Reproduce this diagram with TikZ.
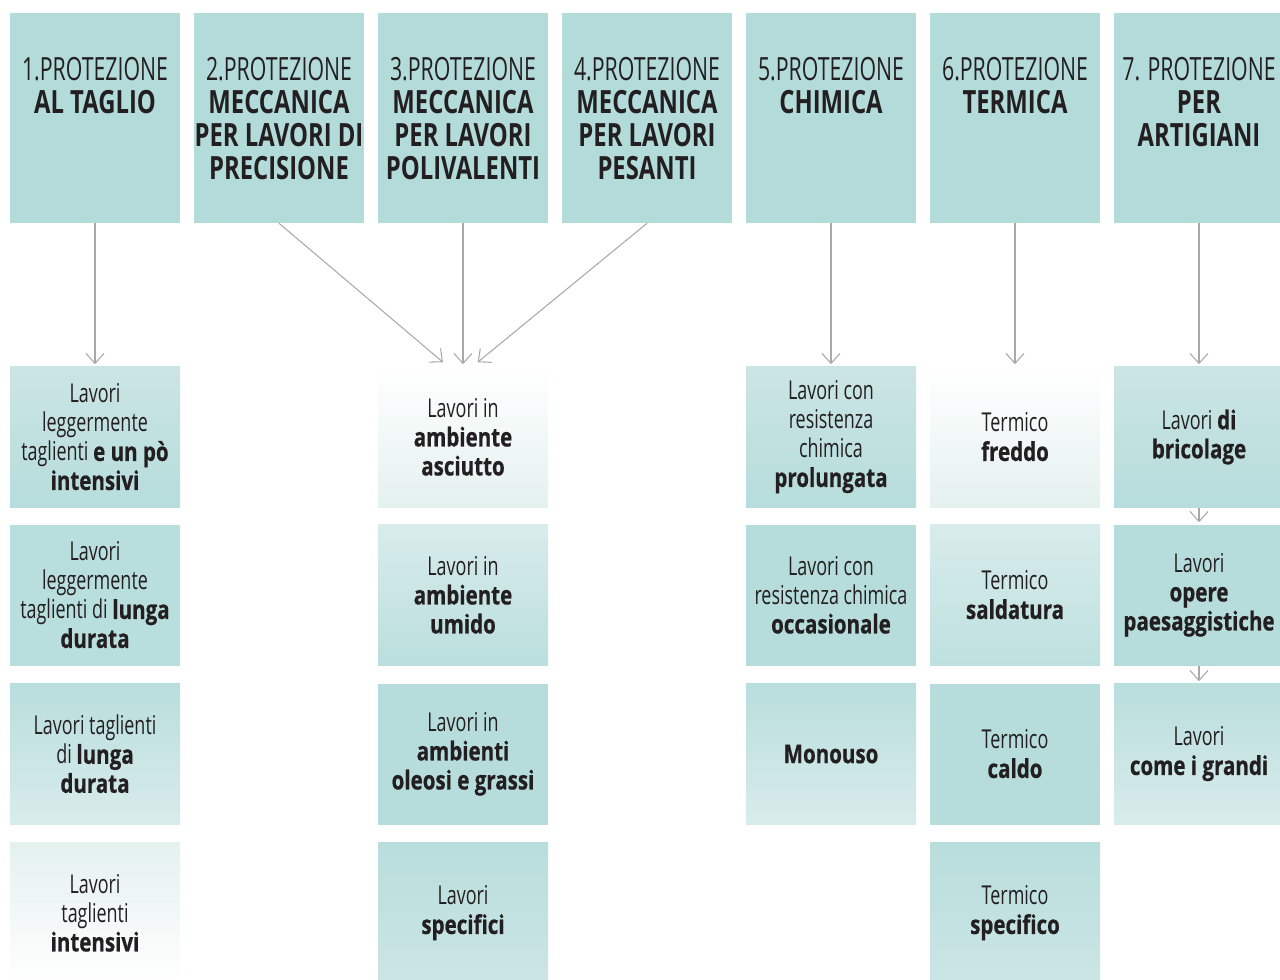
\documentclass[tikz,border=0pt]{standalone}
\usepackage{fontspec}
\setmainfont{Open Sans}[UprightFeatures={FakeStretch=0.665}, BoldFeatures={FakeStretch=0.745}]
\newfontfamily\bodyfont{Open Sans}[UprightFeatures={FakeStretch=0.69}, BoldFeatures={FakeStretch=0.79, FakeBold=0.6}]
\usepackage[svgnames]{xcolor}
\usetikzlibrary{arrows.meta}
\definecolor{tealA}{HTML}{B2DBDA}
\definecolor{tealB}{HTML}{CBE5E4}
\definecolor{tealC}{HTML}{D8ECEB}
\definecolor{tealD}{HTML}{E4F1EF}
\definecolor{ink}{HTML}{231F20}
\definecolor{arrgray}{HTML}{A7A9AC}
\tikzset{hdr/.style = {fill=tealA, inner sep=0, minimum width=127.5pt, minimum height=157.5pt}}
\tikzset{hdrtxt/.style = {anchor=north, inner sep=0, align=center, text=ink,
                          font=\fontsize{24}{24.75}\selectfont}}
\tikzset{box/.style = {inner sep=0, minimum width=127.5pt, minimum height=105.75pt,
                       align=center, text=ink, font=\bodyfont\fontsize{19.5}{21.75}\selectfont}}
\tikzset{arr/.style = {draw=arrgray, line width=0.8pt,
                       -{Straight Barb[length=7.5pt,width=13.5pt,line width=0.8pt]}}}

\begin{document}
\begin{tikzpicture}[x=0.75pt,y=-0.75pt]
      \useasboundingbox (0,0) rectangle (1280,979);
      \clip (0,0) rectangle (1280,979);

      % header row
      \node[hdr] (t1) at (95,118) {};
      \node[hdr] (t2) at (279,118) {};
      \node[hdr] (t3) at (463,118) {};
      \node[hdr] (t4) at (647,118) {};
      \node[hdr] (t5) at (831,118) {};
      \node[hdr] (t6) at (1015,118) {};
      \node[hdr] (t7) at (1199,118) {};
      \node[hdrtxt] (l1) at ([yshift=-33.5pt]t1.north) {1.PROTEZIONE\\\textbf{AL TAGLIO}};
      \node[hdrtxt] (l2) at ([yshift=-33.5pt]t2.north) {2.PROTEZIONE\\\textbf{MECCANICA}\\\textbf{PER LAVORI DI}\\\textbf{PRECISIONE}};
      \node[hdrtxt] (l3) at ([yshift=-33.5pt]t3.north) {3.PROTEZIONE\\\textbf{MECCANICA}\\\textbf{PER LAVORI}\\\textbf{POLIVALENTI}};
      \node[hdrtxt] (l4) at ([yshift=-33.5pt]t4.north) {4.PROTEZIONE\\\textbf{MECCANICA}\\\textbf{PER LAVORI}\\\textbf{PESANTI}};
      \node[hdrtxt] (l5) at ([yshift=-33.5pt]t5.north) {5.PROTEZIONE\\\textbf{CHIMICA}};
      \node[hdrtxt] (l6) at ([yshift=-33.5pt]t6.north) {6.PROTEZIONE\\\textbf{TERMICA}};
      \node[hdrtxt] (l7) at ([yshift=-33.5pt]t7.north) {7. PROTEZIONE\\\textbf{PER}\\\textbf{ARTIGIANI}};

      % column 1
      \node[box, top color=tealB, bottom color=tealA!95!white] (a1) at (95,437) {Lavori\\leggermente\\taglienti \textbf{e un pò}\\\textbf{intensivi}};
      \node[box, fill=tealA!92!white] (a2) at (95,595) {Lavori\\leggermente\\taglienti di \textbf{lunga}\\\textbf{durata}};
      \node[box, top color=tealA!92!white, bottom color=tealC] (a3) at (95,754) {Lavori taglienti\\di \textbf{lunga}\\\textbf{durata}};
      \node[box, top color=tealD, middle color=white, bottom color=white] (a4) at (95,913) {Lavori\\taglienti\\\textbf{intensivi}};

      % column 3
      \node[box, top color=white, middle color=white, bottom color=tealD] (c1) at (463,437) {Lavori in\\\textbf{ambiente}\\\textbf{asciutto}};
      \node[box, top color=tealC, bottom color=tealA!90!white] (c2) at (463,595) {Lavori in\\\textbf{ambiente}\\\textbf{umido}};
      \node[box, fill=tealA!95!white] (c3) at (463,754) {Lavori in\\\textbf{ambienti}\\\textbf{oleosi e grassi}};
      \node[box, top color=tealA!92!white, bottom color=tealB] (c4) at (463,913) {Lavori\\\textbf{specifici}};

      % column 5
      \node[box, top color=tealB, bottom color=tealA!95!white] (e1) at (831,437) {Lavori con\\resistenza\\chimica\\\textbf{prolungata}};
      \node[box, fill=tealA!95!white] (e2) at (831,595) {Lavori con\\resistenza chimica\\\textbf{occasionale}};
      \node[box, top color=tealA!92!white, bottom color=tealC] (e3) at (831,754) {\textbf{Monouso}};

      % column 6
      \node[box, top color=white, middle color=white, bottom color=tealD] (f1) at (1015,437) {Termico\\\textbf{freddo}};
      \node[box, top color=tealC, bottom color=tealA!85!white] (f2) at (1015,595) {Termico\\\textbf{saldatura}};
      \node[box, fill=tealA!95!white] (f3) at (1015,754) {Termico\\\textbf{caldo}};
      \node[box, top color=tealA!92!white, bottom color=tealB] (f4) at (1015,913) {Termico\\\textbf{specifico}};

      % column 7
      \node[box, top color=tealB, bottom color=tealA!95!white] (g1) at (1199,437) {Lavori \textbf{di}\\\textbf{bricolage}};
      \node[box, fill=tealA!95!white] (g2) at (1199,595) {Lavori\\\textbf{opere}\\\textbf{paesaggistiche}};
      \node[box, top color=tealA!92!white, bottom color=tealC] (g3) at (1199,754) {Lavori\\\textbf{come i grandi}};

      % arrows
      \draw[arr, shorten >=1.5pt] (t1.south) -- (a1.north);
      \draw[arr] (t2.south) -- ([xshift=-15pt,yshift=3pt]c1.north);
      \draw[arr, shorten >=1.5pt] (t3.south) -- (c1.north);
      \draw[arr] (t4.south) -- ([xshift=11pt,yshift=3pt]c1.north);
      \draw[arr, shorten >=1.5pt] (t5.south) -- (e1.north);
      \draw[arr, shorten >=1.5pt] (t6.south) -- (f1.north);
      \draw[arr, shorten >=1.5pt] (t7.south) -- (g1.north);
      \draw[arr, shorten >=1.5pt] (g1.south) -- (g2.north);
      \draw[arr, shorten >=1.5pt] (g2.south) -- (g3.north);
\end{tikzpicture}
\end{document}
